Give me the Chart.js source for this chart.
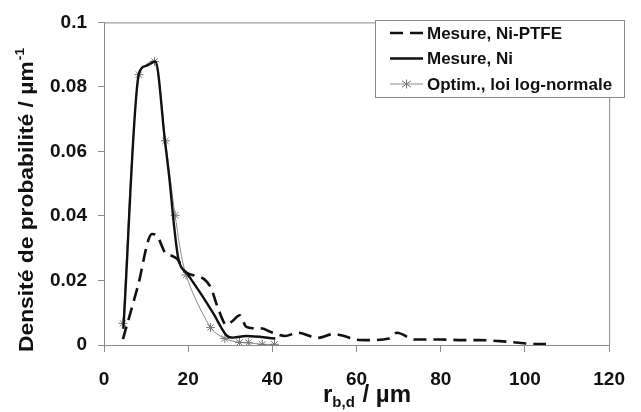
<!DOCTYPE html>
<html>
<head>
<meta charset="utf-8">
<script src="https://cdn.jsdelivr.net/npm/chart.js@4/dist/chart.umd.min.js"></script>
<style>
  html, body { margin: 0; padding: 0; background: #fff; }
  #wrap { width: 641px; height: 412px; position: relative; }
</style>
</head>
<body>
<div id="wrap"><canvas id="c" width="641" height="412"></canvas></div>
<script>
// ---- Data ----
const seriesNames = ['Mesure, Ni-PTFE', 'Mesure, Ni', 'Optim., loi log-normale'];

const ptfeX = [4.5, 8, 11.4, 12.5, 14.5, 16, 17.5, 19.1, 21.5, 23.7, 25.3, 27.2, 29.1, 30.6, 32.2, 33.8, 35.5, 37.6, 39.5, 43, 46, 50.7, 54.6, 57, 59.6, 63, 67.7, 69.6, 73.8, 80, 85.3, 89.2, 94, 98.5, 102.4, 105];
const ptfeY = [0.0018, 0.018, 0.0344, 0.034, 0.0287, 0.0277, 0.0265, 0.0229, 0.0215, 0.0205, 0.018, 0.011, 0.0062, 0.0075, 0.0092, 0.0056, 0.0052, 0.0051, 0.0041, 0.0028, 0.0038, 0.0022, 0.0034, 0.0028, 0.0017, 0.0015, 0.002, 0.0038, 0.0017, 0.0017, 0.0015, 0.0015, 0.0012, 0.0007, 0.0003, 0.0003];

const niX = [4.6, 8.3, 10, 12.2, 14.5, 15.6, 16.6, 17.6, 19.9, 23, 26, 29.1, 30.7, 33.8, 40.7];
const niY = [0.005, 0.0841, 0.0865, 0.0879, 0.063, 0.0508, 0.0375, 0.0272, 0.022, 0.0159, 0.0097, 0.003, 0.0023, 0.0028, 0.002];

const logX = [4.5, 8.3, 12, 14.6, 16.9, 19.5, 25.3, 28.7, 32.2, 34.3, 37.6, 40.5];
const logY = [0.0067, 0.0838, 0.0879, 0.0633, 0.0402, 0.0217, 0.0054, 0.002, 0.0008, 0.0007, 0.0002, 0.0002];

const xTickLabels = ['0', '20', '40', '60', '80', '100', '120'];
const yTickLabels = ['0', '0.02', '0.04', '0.06', '0.08', '0.1'];
const xTitleMain = 'r';
const xTitleSub = 'b,d';
const xTitleRest = ' / µm';
const yTitleMain = 'Densité de probabilité / µm';
const yTitleSup = '-1';

function pts(xs, ys) { return xs.map((x, i) => ({ x: x, y: ys[i] })); }

const FONT = '"Liberation Sans", Arial, sans-serif';
const AXIS_GRAY = '#8a8a8a';
const TEXT = '#111';

const framePlugin = {
  id: 'frame',
  afterDraw(chart) {
    const ctx = chart.ctx;
    const a = chart.chartArea;
    ctx.save();
    // top and right border of plot area
    ctx.strokeStyle = AXIS_GRAY;
    ctx.lineWidth = 1;
    ctx.beginPath();
    ctx.moveTo(a.left, a.top + 0.5);
    ctx.lineTo(a.right + 0.5, a.top + 0.5);
    ctx.lineTo(a.right + 0.5, a.bottom);
    ctx.stroke();

    // legend box
    const bx = 375, by = 20, bw = 249, bh = 77;
    ctx.fillStyle = '#fff';
    ctx.fillRect(bx, by, bw, bh);
    ctx.strokeStyle = AXIS_GRAY;
    ctx.strokeRect(bx + 0.5, by + 0.5, bw, bh);
    const rows = [33, 58.5, 84];
    const ds = chart.data.datasets;
    ctx.font = 'bold 17px ' + FONT;
    ctx.textBaseline = 'middle';
    ctx.textAlign = 'left';
    for (let i = 0; i < ds.length; i++) {
      const y = rows[i];
      ctx.save();
      ctx.strokeStyle = ds[i].borderColor;
      ctx.lineWidth = ds[i].borderWidth;
      ctx.setLineDash(ds[i].borderDash || []);
      ctx.beginPath();
      ctx.moveTo(390, y);
      ctx.lineTo(423, y);
      ctx.stroke();
      ctx.restore();
      if (ds[i].pointRadius > 0) {
        ctx.strokeStyle = ds[i].pointBorderColor;
        ctx.lineWidth = 1;
        ctx.beginPath();
        const r = ds[i].pointRadius, px = 406.5;
        ctx.moveTo(px - r, y - r * 0.7); ctx.lineTo(px + r, y + r * 0.7);
        ctx.moveTo(px - r, y + r * 0.7); ctx.lineTo(px + r, y - r * 0.7);
        ctx.moveTo(px, y - r); ctx.lineTo(px, y + r);
        ctx.stroke();
      }
      ctx.fillStyle = TEXT;
      ctx.fillText(ds[i].label, 427, y + 1);
    }

    // x title with subscript
    ctx.fillStyle = TEXT;
    ctx.textBaseline = 'alphabetic';
    const big = 'bold 24px ' + FONT, small = 'bold 15px ' + FONT;
    ctx.font = big; const w1 = ctx.measureText(xTitleMain).width;
    ctx.font = small; const w2 = ctx.measureText(xTitleSub).width;
    ctx.font = big; const w3 = ctx.measureText(xTitleRest).width;
    const cx = 367;
    let sx = cx - (w1 + w2 + 1 + w3) / 2;
    const base = 402;
    ctx.font = big; ctx.fillText(xTitleMain, sx, base); sx += w1;
    ctx.font = small; ctx.fillText(xTitleSub, sx, base + 5); sx += w2 + 1;
    ctx.font = big; ctx.fillText(xTitleRest, sx, base);

    // y title with superscript (rotated), stretched to the reference length
    ctx.save();
    ctx.translate(33, 200);
    ctx.rotate(-Math.PI / 2);
    const yb = 'bold 20px ' + FONT, ys = 'bold 12px ' + FONT;
    ctx.font = yb; const m1 = ctx.measureText(yTitleMain).width;
    ctx.font = ys; const m2 = ctx.measureText(yTitleSup).width;
    const total = m1 + m2 + 1;
    const k = 304 / total;
    ctx.scale(k, 1);
    let tx = -total / 2;
    ctx.font = yb; ctx.fillText(yTitleMain, tx, 0); tx += m1 + 1;
    ctx.font = ys; ctx.fillText(yTitleSup, tx, -9);
    ctx.restore();

    ctx.restore();
  }
};

new Chart(document.getElementById('c'), {
  type: 'line',
  data: {
    datasets: [
      {
        label: seriesNames[0],
        data: pts(ptfeX, ptfeY),
        borderColor: '#111',
        borderWidth: 2.6,
        borderDash: [13, 7],
        pointRadius: 0,
        cubicInterpolationMode: 'monotone',
        fill: false
      },
      {
        label: seriesNames[1],
        data: pts(niX, niY),
        borderColor: '#111',
        borderWidth: 2.4,
        pointRadius: 0,
        cubicInterpolationMode: 'monotone',
        fill: false
      },
      {
        label: seriesNames[2],
        data: pts(logX, logY),
        borderColor: '#8c8c8c',
        borderWidth: 1,
        pointStyle: 'star',
        pointRadius: 4.5,
        pointBorderColor: '#777',
        pointBackgroundColor: '#777',
        pointBorderWidth: 1,
        tension: 0.3,
        fill: false
      }
    ]
  },
  options: {
    responsive: false,
    animation: false,
    devicePixelRatio: 1,
    layout: { padding: { top: 20, right: 18, left: 0, bottom: 0 } },
    plugins: {
      legend: { display: false },
      tooltip: { enabled: false },
      title: { display: false }
    },
    scales: {
      x: {
        type: 'linear',
        min: 0, max: 120,
        afterFit(s) { s.height = 67; },
        ticks: {
          stepSize: 20,
          padding: 16,
          color: TEXT,
          font: { family: FONT, size: 19, weight: 'bold' },
          maxRotation: 0,
          callback: (v, i) => xTickLabels[i]
        },
        grid: { display: true, drawOnChartArea: false, drawTicks: true, tickLength: 7, color: AXIS_GRAY },
        border: { display: true, color: AXIS_GRAY, width: 1 }
      },
      y: {
        type: 'linear',
        min: 0, max: 0.1,
        afterFit(s) { s.width = 104; },
        ticks: {
          stepSize: 0.02,
          padding: 11,
          color: TEXT,
          font: { family: FONT, size: 19, weight: 'bold' },
          callback: (v, i) => yTickLabels[i]
        },
        grid: { display: true, drawOnChartArea: false, drawTicks: true, tickLength: 6, color: AXIS_GRAY },
        border: { display: true, color: AXIS_GRAY, width: 1 }
      }
    }
  },
  plugins: [framePlugin]
});
</script>
</body>
</html>
